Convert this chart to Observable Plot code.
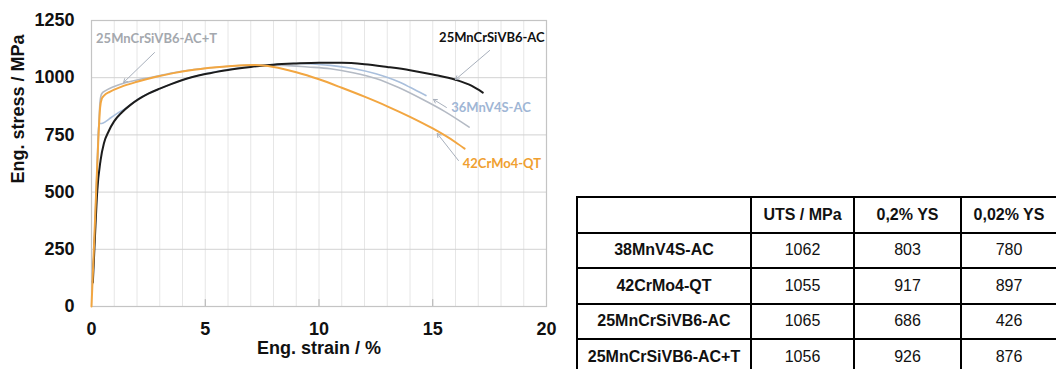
<!DOCTYPE html>
<html>
<head>
<meta charset="utf-8">
<script src="https://cdn.jsdelivr.net/npm/d3@7"></script>
<script src="https://cdn.jsdelivr.net/npm/@observablehq/plot@0.6"></script>
<style>
  html, body { margin: 0; padding: 0; background: #fff; }
  body { width: 1056px; height: 369px; overflow: hidden; font-family: "Liberation Sans", Arial, sans-serif; }
  #wrap { position: relative; width: 1056px; height: 369px; }
  #chart { position: absolute; left: 0; top: 0; }
  #props { position: absolute; left: 576px; top: 196px; border-collapse: collapse; table-layout: fixed; width: 480px; }
  #props td { border: 2px solid #000; text-align: center; padding: 0; height: 33.5px; font-size: 16px; color: #111; }
  #props td.b { font-weight: bold; font-size: 16px; }
</style>
</head>
<body>
<div id="wrap">
  <div id="chart"></div>
  <table id="props">
    <colgroup><col style="width:174px"><col style="width:103px"><col style="width:107px"><col style="width:96px"></colgroup>
    <tbody></tbody>
  </table>
</div>
<script>
// Engineering stress-strain curves (strain in %, stress in MPa)
const strainAC = [0.06, 0.15, 0.25, 0.4, 0.55, 0.75, 1, 1.33, 1.7, 2.07, 2.5, 3, 3.5, 4, 5, 6, 7, 8, 9, 10, 11, 12, 13, 14, 15, 16, 16.7, 17.2];
const stressAC = [106, 300, 500, 640, 715, 765, 810, 848, 880, 906, 930, 952, 972, 990, 1016, 1034, 1047, 1057, 1062, 1065, 1065, 1059, 1047, 1033, 1014, 991, 965, 935];

const strainQT = [0, 0.1, 0.2, 0.3, 0.38, 0.45, 0.55, 0.8, 1.3, 2, 2.8, 3.6, 4.5, 5.5, 6.5, 7.2, 8, 9, 10, 11, 12, 13, 14, 15, 16, 16.4];
const stressQT = [0, 240, 490, 730, 870, 908, 922, 938, 960, 982, 1003, 1020, 1035, 1046, 1053, 1055, 1047, 1024, 993, 956, 917, 875, 829, 778, 718, 690];

const strainMnV = [0.05, 0.15, 0.25, 0.32, 0.45, 0.65, 0.85, 1.1, 1.5, 2, 3, 4, 5, 6, 7, 8, 9, 10, 10.5, 11.5, 12.5, 13.5, 14, 14.7];
const stressMnV = [100, 350, 620, 800, 800, 810, 825, 842, 866, 903, 952, 990, 1017, 1036, 1049, 1058, 1062, 1058, 1054, 1040, 1017, 982, 958, 922];

const strainACT = [0.05, 0.15, 0.25, 0.38, 0.45, 0.6, 1, 1.48, 2, 2.8, 3.6, 4.5, 5.5, 6.5, 7.5, 8.5, 9.5, 10.5, 11.5, 12.5, 13.5, 14.5, 15.5, 16.6];
const stressACT = [100, 340, 600, 900, 930, 942, 962, 978, 990, 1005, 1022, 1036, 1046, 1053, 1056, 1054, 1047, 1039, 1022, 997, 957, 908, 854, 784];

// Axis ticks
const xTicks = [0, 5, 10, 15, 20];
const yTicks = [0, 250, 500, 750, 1000, 1250];

// Curve labels and their pointer arrows (data coordinates)
const labelText = ["25MnCrSiVB6-AC", "36MnV4S-AC", "42CrMo4-QT", "25MnCrSiVB6-AC+T"];
const labelColor = ["#111111", "#9fb6d5", "#f0a030", "#a4a8ae"];
const labelX = [17.6, 17.56, 18.04, 2.86];
const labelY = [1176, 870, 625, 1171];
const arrowX1 = [17.5, 15.6, 16.13, 2.77];
const arrowY1 = [1119, 870, 638, 1110];
const arrowX2 = [16.0, 15.03, 15.2, 1.41];
const arrowY2 = [992, 905, 756, 979];

// Table of tensile properties
const tableHeader = ["", "UTS / MPa", "0,2% YS", "0,02% YS"];
const materials = ["38MnV4S-AC", "42CrMo4-QT", "25MnCrSiVB6-AC", "25MnCrSiVB6-AC+T"];
const uts = [1062, 1055, 1065, 1056];
const ys02 = [803, 917, 686, 926];
const ys002 = [780, 897, 426, 876];

const toRows = (xs, ys) => xs.map((x, i) => ({strain: x, stress: ys[i]}));
const series = [
  {rows: toRows(strainMnV, stressMnV), color: "#a9bfdc", width: 1.6},
  {rows: toRows(strainACT, stressACT), color: "#b4bac4", width: 1.6},
  {rows: toRows(strainAC, stressAC), color: "#1c1c1c", width: 2},
  {rows: toRows(strainQT, stressQT), color: "#f2a641", width: 2}
];
const labels = labelText.map((t, i) => ({t, c: labelColor[i], x: labelX[i], y: labelY[i]}));
const arrows = arrowX1.map((x1, i) => ({x1, y1: arrowY1[i], x2: arrowX2[i], y2: arrowY2[i]}));

const chart = Plot.plot({
  width: 560,
  height: 369,
  marginLeft: 91,
  marginRight: 14,
  marginTop: 20,
  marginBottom: 63,
  style: {fontFamily: "'Liberation Sans', Arial, sans-serif", fontSize: "18px", fontWeight: "bold", color: "#111", background: "transparent"},
  x: {domain: [0, 20], ticks: xTicks, tickSize: 0, tickPadding: 16, tickFormat: d => String(d), label: null},
  y: {domain: [0, 1250], ticks: yTicks, tickSize: 0, tickPadding: 17, tickFormat: d => String(d), label: null},
  marks: [
    Plot.ruleX(d3.range(1, 20), {stroke: "#e6e6e6", strokeWidth: 1}),
    Plot.ruleY(yTicks.slice(1, -1), {stroke: "#d2d2d2", strokeWidth: 1}),
    Plot.ruleX(xTicks.slice(1, -1), {y1: 0, y2: 30, stroke: "#b0b0b0", strokeWidth: 1}),
    Plot.frame({stroke: "#c4c4c4", strokeWidth: 1.2}),
    ...series.map(s => Plot.line(s.rows, {x: "strain", y: "stress", stroke: s.color, strokeWidth: s.width, curve: "monotone-x"})),
    Plot.arrow(arrows, {x1: "x1", y1: "y1", x2: "x2", y2: "y2", stroke: "#a8b0bc", strokeWidth: 1, headLength: 6}),
    Plot.text(labels, {x: "x", y: "y", text: "t", fill: "c", fontFamily: "Lato, 'Open Sans', sans-serif", fontSize: 13, fontWeight: "bold"}),
    Plot.text(["Eng. strain / %"], {frameAnchor: "bottom", dy: 47, fontSize: 18, fontWeight: "bold", fill: "#111"}),
    Plot.text(["Eng. stress / MPa"], {frameAnchor: "left", dx: -73, dy: 20, rotate: -90, fontSize: 18, fontWeight: "bold", fill: "#111"})
  ]
});
document.getElementById("chart").append(chart);

// Build the properties table
const body = d3.select("#props tbody");
const head = body.append("tr");
tableHeader.forEach(h => head.append("td").attr("class", "b").text(h));
materials.forEach((m, i) => {
  const tr = body.append("tr");
  tr.append("td").attr("class", "b").text(m);
  [uts[i], ys02[i], ys002[i]].forEach(v => tr.append("td").text(v));
});
</script>
</body>
</html>
